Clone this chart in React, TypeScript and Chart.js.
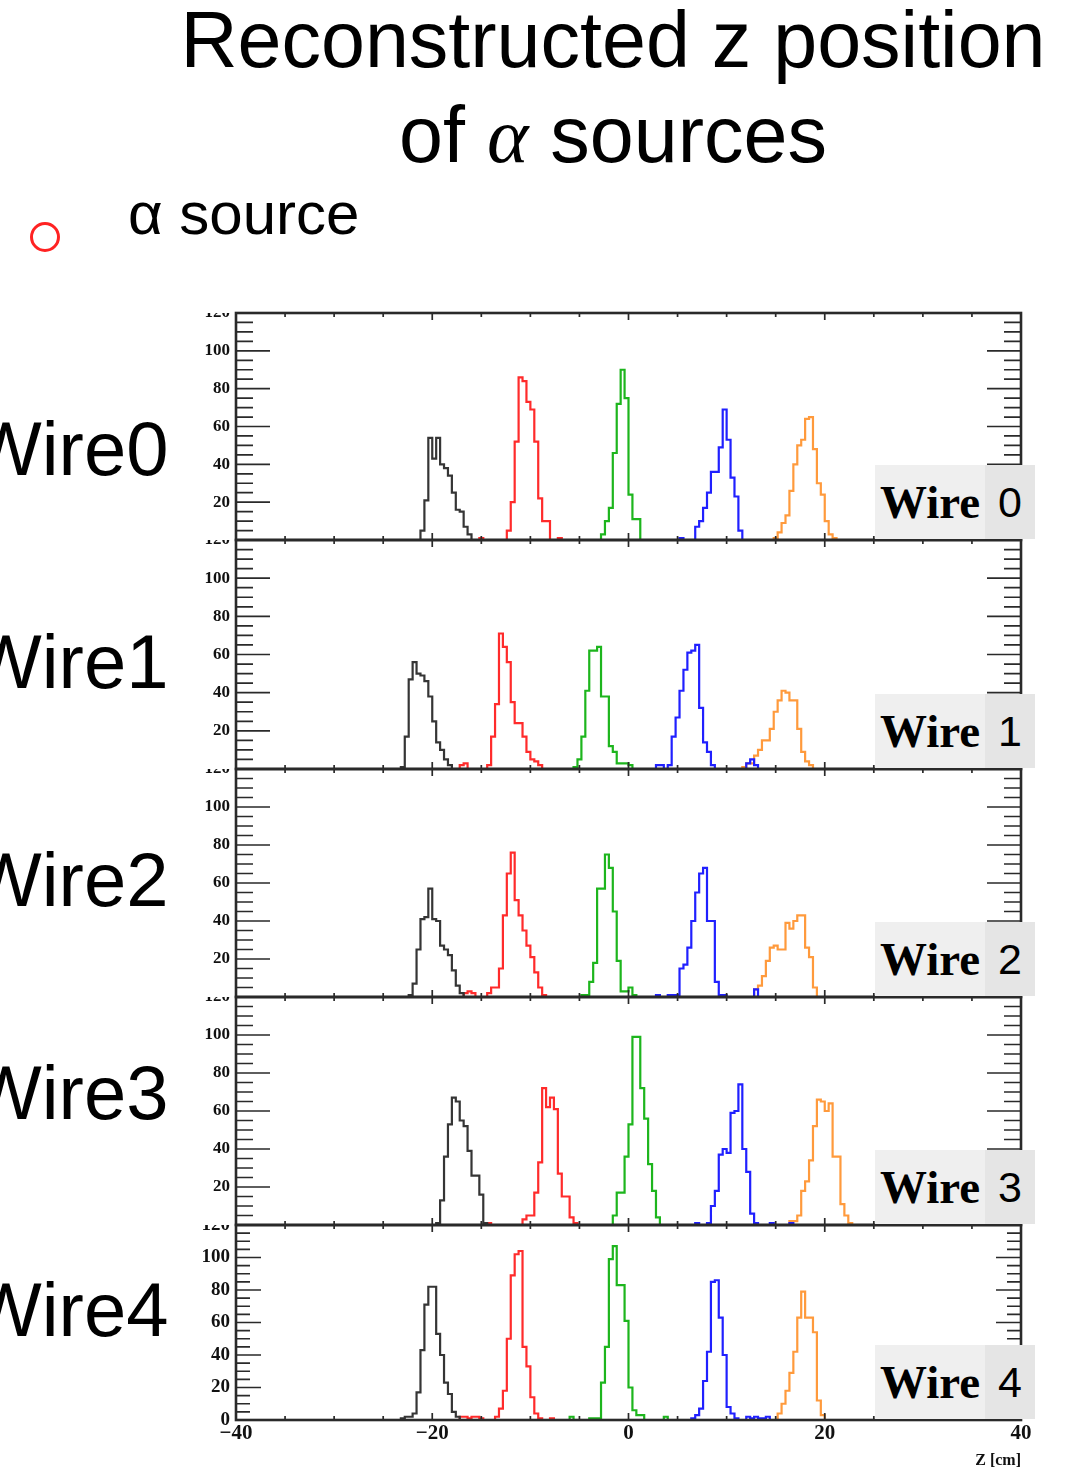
import React, { useEffect, useRef } from "react";
import { Chart, registerables } from "chart.js";

Chart.register(...registerables);

// ---------------- data ----------------
const X_MIN = -40;
const X_MAX = 40;
const BIN_WIDTH = 0.4; // cm
const Y_MAX = 120;
const Y_TICK_LABELS = [0, 20, 40, 60, 80, 100, 120];
const X_TICK_LABELS = [-40, -20, 0, 20, 40];
const X_AXIS_TITLE = "Z [cm]";

const SOURCE_NAMES = ["source A", "source B", "source C", "source D", "source E"];
const SOURCE_COLORS = ["#353535", "#ff2b2b", "#1db51d", "#2020ff", "#ff9a3c"];

const WIRE_LEFT_LABELS = ["Wire0", "Wire1", "Wire2", "Wire3", "Wire4"];
const WIRE_BOX_WORD = "Wire";
const WIRE_BOX_IDS = ["0", "1", "2", "3", "4"];

// first bin low edge (cm) of each series, order: black, red, green, blue, orange
const wire0Starts = [-21.2, -15.2, -2.8, 5.2, 14.8];
const wire0Black = [5, 21, 54, 43, 54, 40, 38, 34, 25, 16, 15, 7, 3];
const wire0Red = [1, 0, 0, 0, 0, 0, 0, 5, 20, 52, 86, 84, 73, 69, 52, 22, 10, 10, 0, 0, 1];
const wire0Green = [3, 10, 17, 46, 72, 90, 75, 24, 11, 11];
const wire0Blue = [1, 0, 0, 0, 7, 10, 17, 25, 36, 36, 49, 69, 53, 33, 23, 5];
const wire0Orange = [1, 4, 9, 13, 26, 40, 50, 53, 64, 65, 48, 30, 24, 10, 3, 1];

const wire1Starts = [-23.2, -17.2, -5.6, 2.8, 11.6];
const wire1Black = [1, 17, 47, 56, 50, 49, 46, 38, 25, 14, 10, 5, 2];
const wire1Red = [2, 3, 0, 0, 0, 0, 0, 2, 17, 34, 71, 64, 56, 35, 24, 24, 17, 9, 5, 4, 2];
const wire1Green = [1, 5, 17, 41, 62, 62, 64, 38, 38, 12, 9, 3, 3, 3, 2];
const wire1Blue = [2, 2, 0, 2, 17, 27, 41, 52, 61, 62, 65, 32, 14, 9, 2, 0, 0, 0, 0, 0, 0, 0, 0, 3, 5, 2];
const wire1Orange = [1, 3, 3, 7, 10, 15, 15, 21, 30, 36, 41, 40, 36, 36, 21, 9, 4, 2];

const wire2Starts = [-22.4, -16.8, -4.8, 2.8, 12.8];
const wire2Black = [1, 7, 25, 41, 42, 57, 41, 40, 27, 25, 22, 14, 6, 2];
const wire2Red = [2, 3, 2, 0, 0, 0, 2, 5, 5, 15, 43, 65, 76, 51, 43, 35, 27, 21, 13, 5, 1];
const wire2Green = [1, 1, 8, 18, 57, 57, 75, 68, 45, 19, 3, 3, 5, 1];
const wire2Blue = [1, 0, 0, 1, 1, 1, 15, 17, 26, 40, 55, 65, 68, 40, 40, 8, 1, 1, 0, 0, 0, 0, 0, 0, 0, 4];
const wire2Orange = [4, 6, 11, 19, 26, 27, 25, 25, 39, 36, 40, 43, 43, 26, 21, 5];

const wire3Starts = [-19.6, -14.4, -1.6, 6.8, 16.4];
const wire3Black = [1, 13, 36, 53, 67, 65, 55, 52, 39, 26, 26, 16, 1];
const wire3Red = [1, 0, 0, 0, 0, 0, 0, 0, 0, 3, 5, 5, 17, 33, 72, 62, 67, 61, 27, 15, 15, 4, 1];
const wire3Green = [5, 17, 17, 36, 53, 99, 99, 72, 56, 32, 18, 4];
const wire3Blue = [1, 0, 0, 1, 10, 18, 37, 40, 38, 59, 60, 74, 40, 28, 6, 1, 0, 0, 0, 1, 0, 0, 0, 0, 1];
const wire3Orange = [2, 2, 5, 18, 23, 34, 52, 66, 65, 60, 64, 36, 36, 11, 5, 1];

const wire4Starts = [-23.2, -17.2, -6.0, 6.4, 15.2];
const wire4Black = [1, 2, 2, 4, 17, 43, 71, 82, 82, 53, 40, 23, 16, 5, 2];
const wire4Red = [2, 2, 1, 2, 2, 1, 0, 0, 0, 2, 7, 18, 50, 89, 102, 104, 45, 33, 14, 4, 1, 0, 0, 1];
const wire4Green = [2, 0, 0, 0, 0, 1, 1, 1, 23, 45, 99, 107, 83, 83, 61, 20, 6, 3, 3, 0, 0, 0, 0, 0, 2];
const wire4Blue = [1, 3, 7, 24, 42, 85, 86, 63, 40, 8, 4, 1, 0, 0, 2, 1, 2, 1, 1, 2];
const wire4Orange = [4, 10, 18, 29, 42, 63, 79, 63, 63, 54, 12, 3];

const WIRES = [
  { starts: wire0Starts, series: [wire0Black, wire0Red, wire0Green, wire0Blue, wire0Orange] },
  { starts: wire1Starts, series: [wire1Black, wire1Red, wire1Green, wire1Blue, wire1Orange] },
  { starts: wire2Starts, series: [wire2Black, wire2Red, wire2Green, wire2Blue, wire2Orange] },
  { starts: wire3Starts, series: [wire3Black, wire3Red, wire3Green, wire3Blue, wire3Orange] },
  { starts: wire4Starts, series: [wire4Black, wire4Red, wire4Green, wire4Blue, wire4Orange] },
];

// ---------------- layout ----------------
const PAGE_W = 1076;
const PAGE_H = 1470;
const PLOT_LEFT = 236;
const PLOT_RIGHT = 1021;
const PANEL_TOPS = [313, 540, 769, 997, 1225];
const PANEL_BOTTOMS = [540, 769, 997, 1225, 1420];
const LEFT_LABEL_BASELINES = [475, 688, 906, 1119, 1336];
const PAD = 3;
const AXIS_COLOR = "#2a2a2a";
const SANS = '"Liberation Sans", Arial, Helvetica, sans-serif';
const SERIF = '"Liberation Serif", "Times New Roman", serif';

function histogramPoints(start: number, counts: number[]) {
  const nBins = Math.round((X_MAX - X_MIN) / BIN_WIDTH);
  const bins: number[] = new Array(nBins).fill(0);
  const first = Math.round((start - X_MIN) / BIN_WIDTH);
  counts.forEach((c, i) => {
    if (first + i >= 0 && first + i < nBins) bins[first + i] = c;
  });
  const pts = bins.map((c, k) => ({ x: X_MIN + k * BIN_WIDTH, y: c }));
  pts.push({ x: X_MAX, y: bins[nBins - 1] });
  return pts;
}

function makeAxesPlugin(index: number) {
  const isLast = index === WIRES.length - 1;
  return {
    id: "rootAxes" + index,
    afterDatasetsDraw(chart: any) {
      const { ctx, chartArea: a } = chart;
      const xs = chart.scales.x;
      const ys = chart.scales.y;
      const majorLen = isLast ? 25 : 34;
      const minorLen = isLast ? 14 : 17;
      ctx.save();
      ctx.strokeStyle = AXIS_COLOR;
      ctx.lineWidth = 1.7;
      ctx.beginPath();
      for (let v = 0; v <= Y_MAX; v += 5) {
        const py = ys.getPixelForValue(v);
        const len = v % 20 === 0 ? majorLen : minorLen;
        ctx.moveTo(a.left, py);
        ctx.lineTo(a.left + len, py);
        ctx.moveTo(a.right, py);
        ctx.lineTo(a.right - len, py);
      }
      for (let v = X_MIN; v <= X_MAX; v += 5) {
        const px = xs.getPixelForValue(v);
        const len = v % 20 === 0 ? 7 : 4;
        ctx.moveTo(px, a.top);
        ctx.lineTo(px, a.top + len);
        ctx.moveTo(px, a.bottom);
        ctx.lineTo(px, a.bottom - len);
      }
      ctx.stroke();
      ctx.lineWidth = 2.6;
      ctx.strokeRect(a.left, a.top, a.right - a.left, a.bottom - a.top);

      // y tick labels, clipped at the frame top like the stacked pads
      ctx.save();
      ctx.beginPath();
      ctx.rect(0, a.top, chart.width, chart.height - a.top);
      ctx.clip();
      ctx.fillStyle = "#111";
      ctx.font = `bold ${isLast ? 19 : 17}px ${SERIF}`;
      ctx.textAlign = "right";
      ctx.textBaseline = "middle";
      Y_TICK_LABELS.forEach((v) => {
        if (!isLast && v === 0) return;
        ctx.fillText(String(v), a.left - 6, ys.getPixelForValue(v));
      });
      ctx.restore();

      if (isLast) {
        ctx.fillStyle = "#111";
        ctx.font = `bold 21px ${SERIF}`;
        ctx.textAlign = "center";
        ctx.textBaseline = "middle";
        X_TICK_LABELS.forEach((v) => {
          const txt = v < 0 ? "\u2212" + Math.abs(v) : String(v);
          ctx.fillText(txt, xs.getPixelForValue(v), a.bottom + 14);
        });
        ctx.font = `bold 16px ${SERIF}`;
        ctx.textAlign = "right";
        ctx.textBaseline = "alphabetic";
        ctx.fillText(X_AXIS_TITLE, xs.getPixelForValue(X_MAX), a.bottom + 45);
      }
      ctx.restore();
    },
  };
}

function WirePanel({ index }: { index: number }) {
  const ref = useRef<HTMLCanvasElement>(null);
  const isLast = index === WIRES.length - 1;
  const top = PANEL_TOPS[index] - PAD;
  const bottomPad = isLast ? PAGE_H - PANEL_BOTTOMS[index] : PAD;
  const height = PANEL_BOTTOMS[index] - PANEL_TOPS[index] + PAD + bottomPad;

  useEffect(() => {
    if (!ref.current) return;
    const wire = WIRES[index];
    const chart = new Chart(ref.current, {
      type: "line",
      data: {
        datasets: wire.series.map((counts, s) => ({
          label: SOURCE_NAMES[s],
          data: histogramPoints(wire.starts[s], counts),
          borderColor: SOURCE_COLORS[s],
          backgroundColor: SOURCE_COLORS[s],
          borderWidth: 2.2,
          pointRadius: 0,
          pointHoverRadius: 0,
          stepped: true,
          fill: false,
          tension: 0,
          borderJoinStyle: "miter",
        })),
      },
      options: {
        animation: false,
        responsive: false,
        maintainAspectRatio: false,
        events: [],
        layout: {
          padding: { left: PLOT_LEFT, right: PAGE_W - PLOT_RIGHT, top: PAD, bottom: bottomPad },
        },
        scales: {
          x: { type: "linear", min: X_MIN, max: X_MAX, display: false },
          y: { type: "linear", min: 0, max: Y_MAX, display: false },
        },
        plugins: {
          legend: { display: false },
          tooltip: { enabled: false },
          title: { display: false },
        },
      } as any,
      plugins: [makeAxesPlugin(index)],
    } as any);
    return () => chart.destroy();
  }, [index]);

  return (
    <canvas
      ref={ref}
      width={PAGE_W}
      height={height}
      style={{ position: "absolute", left: 0, top, width: PAGE_W, height, display: "block" }}
    />
  );
}

export default function App() {
  return (
    <div
      style={{
        position: "absolute",
        left: 0,
        top: 0,
        width: PAGE_W,
        height: PAGE_H,
        overflow: "hidden",
        background: "#ffffff",
        color: "#000",
      }}
    >
      {/* title */}
      <div
        style={{
          position: "absolute",
          left: 178,
          top: 0,
          width: 870,
          textAlign: "center",
          whiteSpace: "nowrap",
          font: `79px/79px ${SANS}`,
        }}
      >
        Reconstructed z position
      </div>
      <div
        style={{
          position: "absolute",
          left: 178,
          top: 95,
          width: 870,
          textAlign: "center",
          whiteSpace: "nowrap",
          font: `79px/79px ${SANS}`,
        }}
      >
        of <span style={{ fontFamily: SERIF, fontStyle: "italic" }}>α</span> sources
      </div>

      {/* legend */}
      <div
        style={{
          position: "absolute",
          left: 30,
          top: 222,
          width: 30,
          height: 30,
          boxSizing: "border-box",
          border: "3.5px solid #ff2222",
          borderRadius: "50%",
        }}
      />
      <div
        style={{
          position: "absolute",
          left: 128,
          top: 184,
          whiteSpace: "nowrap",
          font: `60px/60px ${SANS}`,
        }}
      >
        α source
      </div>

      {/* left wire labels */}
      {WIRE_LEFT_LABELS.map((t, i) => (
        <div
          key={t}
          style={{
            position: "absolute",
            left: -30,
            top: LEFT_LABEL_BASELINES[i] - 64,
            whiteSpace: "nowrap",
            font: `76px/76px ${SANS}`,
          }}
        >
          {t}
        </div>
      ))}

      {/* panels */}
      {WIRES.map((_, i) => (
        <WirePanel key={i} index={i} />
      ))}

      {/* per-pad labels */}
      {WIRE_BOX_IDS.map((id, i) => {
        const top = PANEL_BOTTOMS[i] - 75;
        return (
          <React.Fragment key={id}>
            <div
              style={{
                position: "absolute",
                left: 875,
                top,
                width: 110,
                height: 74,
                background: "#efefef",
                boxSizing: "border-box",
                paddingLeft: 5,
                whiteSpace: "nowrap",
                font: `bold 47px/74px ${SERIF}`,
              }}
            >
              {WIRE_BOX_WORD}
            </div>
            <div
              style={{
                position: "absolute",
                left: 985,
                top,
                width: 50,
                height: 74,
                background: "#e5e5e5",
                textAlign: "center",
                font: `43px/74px ${SANS}`,
              }}
            >
              {id}
            </div>
          </React.Fragment>
        );
      })}
    </div>
  );
}
